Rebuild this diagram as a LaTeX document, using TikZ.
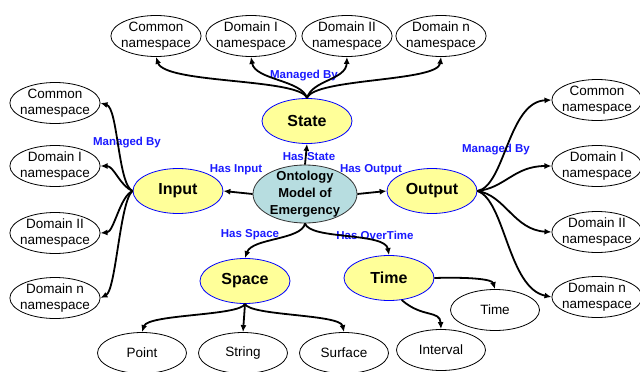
\documentclass[tikz,border=0pt]{standalone}
\usepackage{fontspec}
\setmainfont{Liberation Sans}
\usetikzlibrary{arrows.meta,shapes.geometric}
\definecolor{yel}{HTML}{FFFF99}
\definecolor{teal2}{HTML}{B7DDE0}
\definecolor{lblue}{HTML}{1A1AFF}
\begin{document}
\begin{tikzpicture}[x=1pt,y=-1pt,
  leaf/.style={draw=black,line width=0.8pt,ellipse,minimum width=89pt,minimum height=41pt,inner xsep=-3pt,inner ysep=-4pt,align=center,font=\fontsize{13.5}{15.5}\selectfont},
  topic/.style={draw=blue,line width=0.8pt,fill=yel,ellipse,minimum width=90pt,minimum height=45pt,inner sep=0pt,font=\fontsize{16}{18}\selectfont\bfseries},
  core/.style={draw=black!80,line width=0.8pt,fill=teal2,ellipse,minimum width=104pt,minimum height=58pt,inner xsep=-4pt,inner ysep=-6pt,align=center,font=\fontsize{13}{17}\selectfont\bfseries},
  lab/.style={text=lblue,font=\fontsize{11.5}{13}\selectfont\bfseries,inner sep=0pt},
  conn/.style={line width=1.8pt,-{Latex[length=7pt,width=6pt]}},
]
\useasboundingbox (0,0) rectangle (640,372);
% top row
\node[leaf] (tc) at (156,36) {Common\\namespace};
\node[leaf] (t1) at (251,36) {Domain I\\namespace};
\node[leaf] (t2) at (347,36) {Domain II\\namespace};
\node[leaf] (tn) at (441,36) {Domain n\\namespace};
% left column
\node[leaf] (lc) at (55,103) {Common\\namespace};
\node[leaf] (l1) at (55,166) {Domain I\\namespace};
\node[leaf] (l2) at (55,233) {Domain II\\namespace};
\node[leaf] (ln) at (55,298) {Domain n\\namespace};
% right column
\node[leaf] (rc) at (597,100) {Common\\namespace};
\node[leaf] (r1) at (597,166) {Domain I\\namespace};
\node[leaf] (r2) at (597,232) {Domain II\\namespace};
\node[leaf] (rn) at (597,297) {Domain n\\namespace};
% main
\node[core] (c) at (305,194) {Ontology\\Model of\\Emergency};
\node[topic] (st) at (307,121) {State};
\node[topic] (in) at (178,191) {Input};
\node[topic] (out) at (432,191) {Output};
\node[topic] (sp) at (245,281) {Space};
\node[topic] (ti) at (389,278) {Time};
% bottom leaves
\node[leaf] (pt) at (142,353) {Point};
\node[leaf] (str) at (243,353) {String};
\node[leaf] (sf) at (344,353) {Surface};
\node[leaf] (iv) at (441,350) {Interval};
\node[leaf] (tw) at (495,310) {Time};
% labels
\node[lab] (lms) at (304,76) {Managed By};
\node[lab] (lml) at (127,143) {Managed By};
\node[lab] (lmr) at (496,150) {Managed By};
\node[lab] (lhs) at (309,157) {Has State};
\node[lab] (lhi) at (236,170) {Has Input};
\node[lab] (lho) at (371,170) {Has Output};
\node[lab] (lhsp) at (250,235) {Has Space};
\node[lab] (lht) at (375,235) {Has OverTime};
% centre connectors
\draw[conn] (c.west) -- (in.east);
\draw[conn] (c.east) -- (out.west);
\draw[conn] (c.north) -- (st.south);
\draw[conn] (c.south) .. controls (302,240) and (252,238) .. (sp.north);
\draw[conn] (c.south) .. controls (310,240) and (385,232) .. (ti.north);
% state
\draw[conn] (st.north) .. controls (300,78) and (165,84) .. (tc.south);
\draw[conn] (st.north) .. controls (302,80) and (255,80) .. (t1.south);
\draw[conn] (st.north) .. controls (312,80) and (346,80) .. (t2.south);
\draw[conn] (st.north) .. controls (314,78) and (438,82) .. (tn.south);
% input
\draw[conn] (in.west) .. controls (118,185) and (118,108) .. (lc.east);
\draw[conn] (in.west) .. controls (120,186) and (114,166) .. (l1.east);
\draw[conn] (in.west) .. controls (120,196) and (114,232) .. (l2.east);
\draw[conn] (in.west) .. controls (120,200) and (116,290) .. (ln.east);
% output
\draw[conn] (out.east) .. controls (505,186) and (508,102) .. (rc.west);
\draw[conn] (out.east) .. controls (505,188) and (514,166) .. (r1.west);
\draw[conn] (out.east) .. controls (505,195) and (514,230) .. (r2.west);
\draw[conn] (out.east) .. controls (505,200) and (508,288) .. (rn.west);
% space
\draw[conn] (sp.south) .. controls (240,316) and (148,314) .. (pt.north);
\draw[conn] (sp.south) -- (str.north);
\draw[conn] (sp.south) .. controls (250,316) and (340,314) .. (sf.north);
% time
\draw[conn] (ti.east) .. controls (468,277) and (492,279) .. (tw.north);
\draw[conn] (ti.-60) .. controls (422,318) and (440,310) .. (iv.north);
\end{tikzpicture}
\end{document}
